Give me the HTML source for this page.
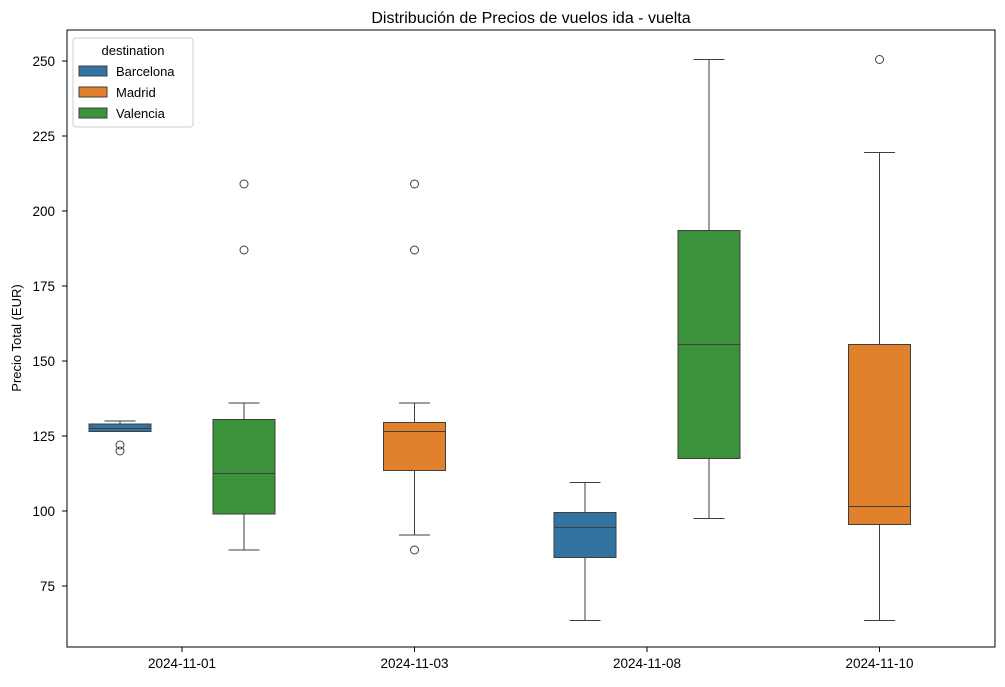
<!DOCTYPE html>
<html><head><meta charset="utf-8"><style>
body{margin:0;background:#fff;font-family:"Liberation Sans",sans-serif}
</style></head><body>
<svg id="c" width="1005" height="682" xmlns="http://www.w3.org/2000/svg" font-family="Liberation Sans, sans-serif">
<rect width="1005" height="682" fill="#fff"/>
<text x="531" y="23" text-anchor="middle" font-size="16" fill="#000">Distribución de Precios de vuelos ida - vuelta</text>
<text transform="translate(21,338) rotate(-90)" text-anchor="middle" font-size="13">Precio Total (EUR)</text>
<g id="marks"></g>
<rect x="67" y="30" width="928" height="617" fill="none" stroke="#000" stroke-width="1"/>
<g id="legend">
<rect x="73" y="38" width="120" height="89" rx="3" fill="#fff" fill-opacity="0.8" stroke="#ccc"/>
<text x="133" y="55" text-anchor="middle" font-size="13">destination</text>
</g>
</svg>
<script>
const categories=["2024-11-01","2024-11-03","2024-11-08","2024-11-10"];
const hues=["Barcelona","Madrid","Valencia"];
const colors=["#3274a1","#e1812c","#3a923a"];
const yTicks=[75,100,125,150,175,200,225,250];
// [category index, hue index, whislo, q1, med, q3, whishi]
const boxStats=[[0,0,126.5,126.5,127.5,129,130],[0,2,87,99,112.5,130.5,136],[1,1,92,113.5,126.5,129.5,136],[2,0,63.5,84.5,94.5,99.5,109.5],[2,2,97.5,117.5,155.5,193.5,250.5],[3,1,63.5,95.5,101.5,155.5,219.5]];
// [category index, hue index, value]
const outliers=[[0,0,122],[0,0,120],[0,2,187],[0,2,209],[1,1,87],[1,1,187],[1,1,209],[3,1,250.5]];
const NS="http://www.w3.org/2000/svg";
const svg=document.getElementById('c'),g=document.getElementById('marks'),lg=document.getElementById('legend');
const y=v=>511-(v-100)*3;
const xc=i=>182+i*232.5;
const hx=(c,h)=>xc(c)+(h-1)*62;
function mk(t,a,p){const e=document.createElementNS(NS,t);for(const k in a)e.setAttribute(k,a[k]);(p||g).appendChild(e);return e;}
yTicks.forEach(v=>{
const l=mk('line',{x1:62,x2:67,y1:y(v),y2:y(v),stroke:'#000'},svg);


const t=mk('text',{x:55,y:y(v)+5,'text-anchor':'end','font-size':13.5},svg);t.textContent=v;


});
categories.forEach((c,i)=>{
const l=mk('line',{x1:xc(i),x2:xc(i),y1:647,y2:652,stroke:'#000'},svg);


const t=mk('text',{x:xc(i),y:668,'text-anchor':'middle','font-size':13.5},svg);t.textContent=c;


});
const st='#3f3f3f';
boxStats.forEach(b=>{
const [c,h,lo,q1,md,q3,hi]=b;const cx=hx(c,h),w=62;
const gr=mk('g',{});


mk('line',{x1:cx,x2:cx,y1:y(hi),y2:y(q3),stroke:st},gr);
mk('line',{x1:cx,x2:cx,y1:y(q1),y2:y(lo),stroke:st},gr);
mk('line',{x1:cx-w/4,x2:cx+w/4,y1:y(hi),y2:y(hi),stroke:st},gr);
mk('line',{x1:cx-w/4,x2:cx+w/4,y1:y(lo),y2:y(lo),stroke:st},gr);
mk('rect',{x:cx-w/2,y:y(q3),width:w,height:Math.max(y(q1)-y(q3),0.5),fill:colors[h],stroke:st},gr);
mk('line',{x1:cx-w/2,x2:cx+w/2,y1:y(md),y2:y(md),stroke:st},gr);
});
outliers.forEach(o=>{
const e=mk('circle',{cx:hx(o[0],o[1]),cy:y(o[2]),r:4,fill:'none',stroke:st});


});
hues.forEach((h,i)=>{
const r=mk('rect',{x:79,y:66+i*21,width:28,height:10,fill:colors[i],stroke:st},lg);


const t=mk('text',{x:116,y:76+i*21,'font-size':13},lg);t.textContent=h;


});
</script>
</body></html>
